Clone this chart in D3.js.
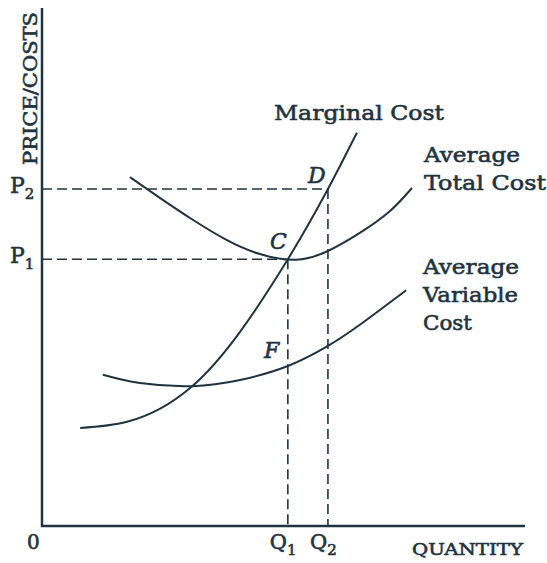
<!DOCTYPE html>
<html>
<head>
<meta charset="utf-8">
<script src="https://cdn.jsdelivr.net/npm/d3@7"></script>
<style>
  body { margin: 0; background: #fff; }
  svg text { font-family: "DejaVu Serif", "Liberation Serif", serif; fill: #1f3440; stroke: #1f3440; stroke-width: 0.6px; }
</style>
</head>
<body>
<div id="chart"></div>
<script>
// curves (quantity / cost, 0-100 units)
var mcQ = [7.9, 17.6, 31.1, 50.9, 59.2, 65.2]
var mcCost = [19.0, 20.2, 27.1, 51.7, 65.3, 76.2]
var atcQ = [18.2, 24.4, 31.3, 38.3, 45.1, 52.6, 59.2, 65.8, 72.0, 76.6]
var atcCost = [67.6, 63.6, 59.3, 55.4, 52.7, 51.6, 53.3, 56.8, 61.0, 65.5]
var avcQ = [12.6, 20.3, 31.1, 41.0, 50.9, 59.2, 65.8, 75.4]
var avcCost = [29.3, 27.7, 27.1, 28.3, 31.0, 34.9, 39.0, 45.7]

// Q1/Q2 and P1/P2 levels (points C and D)
var qLevels = [50.9, 59.2]
var pLevels = [51.7, 65.3]
var levelNames = ['1', '2']

var ink = '#1f3440'
width = 547
height = 563

var svg = d3.select('#chart').append('svg')
    .attr('width', width)
    .attr('height', height)

var xScale = d3.scaleLinear().domain([0, 100]).range([42, 525])
var yScale = d3.scaleLinear().domain([0, 100]).range([526, 10])

function zip(qs, cs) {
    return qs.map(function (q, i) { return [q, cs[i]] })
}

function costLine(curve) {
    return d3.line()
        .x(function (d) { return xScale(d[0]) })
        .y(function (d) { return yScale(d[1]) })
        .curve(curve)
}

// dashed guides
qLevels.forEach(function (q, i) {
    svg.append('line')
        .attr('x1', xScale(0)).attr('x2', xScale(q))
        .attr('y1', yScale(pLevels[i])).attr('y2', yScale(pLevels[i]))
        .attr('stroke', ink).attr('stroke-width', 1.6)
        .attr('stroke-dasharray', '10,5')
    svg.append('line')
        .attr('x1', xScale(q)).attr('x2', xScale(q))
        .attr('y1', yScale(pLevels[i])).attr('y2', yScale(0))
        .attr('stroke', ink).attr('stroke-width', 1.6)
        .attr('stroke-dasharray', '10,5')
})

// the three cost curves
var curves = [
    [zip(mcQ, mcCost), d3.curveMonotoneX],
    [zip(atcQ, atcCost), d3.curveNatural],
    [zip(avcQ, avcCost), d3.curveNatural]
]
curves.forEach(function (c) {
    svg.append('path')
        .attr('d', costLine(c[1])(c[0]))
        .attr('fill', 'none')
        .attr('stroke', ink)
        .attr('stroke-width', 2)
})

// axes
svg.append('line')
    .attr('x1', xScale(0)).attr('x2', xScale(0))
    .attr('y1', yScale(0) + 1).attr('y2', yScale(100) - 2)
    .attr('stroke', ink).attr('stroke-width', 2.5)
svg.append('line')
    .attr('x1', xScale(0) - 1).attr('x2', xScale(100))
    .attr('y1', yScale(0)).attr('y2', yScale(0))
    .attr('stroke', ink).attr('stroke-width', 2.5)

// axis labels
svg.append('text')
    .attr('transform', 'translate(37,165) rotate(-90)')
    .attr('font-size', 19)
    .attr('textLength', 153).attr('lengthAdjust', 'spacingAndGlyphs')
    .text('PRICE/COSTS')

svg.append('text')
    .attr('x', 412).attr('y', 555)
    .attr('font-size', 17)
    .attr('textLength', 111).attr('lengthAdjust', 'spacingAndGlyphs')
    .text('QUANTITY')

svg.append('text')
    .attr('x', 27).attr('y', 549)
    .attr('font-size', 20)
    .text('0')

// P and Q labels
pLevels.forEach(function (p, i) {
    var t = svg.append('text')
        .attr('x', 10).attr('y', yScale(p) + 4)
        .attr('font-size', 22)
    t.append('tspan').text('P')
    t.append('tspan').attr('dy', 6).attr('font-size', 15).text(levelNames[i])
})
qLevels.forEach(function (q, i) {
    var t = svg.append('text')
        .attr('x', xScale(q) - 18).attr('y', 549)
        .attr('font-size', 21)
    t.append('tspan').text('Q')
    t.append('tspan').attr('dy', 6).attr('font-size', 15).text(levelNames[i])
})

// curve names
function label(lines, x, y, step, widths) {
    lines.forEach(function (s, i) {
        svg.append('text')
            .attr('x', x).attr('y', y + i * step)
            .attr('font-size', 21)
            .attr('textLength', widths[i]).attr('lengthAdjust', 'spacingAndGlyphs')
            .text(s)
    })
}
label(['Marginal Cost'], 274, 120, 0, [170])
label(['Average', 'Total Cost'], 424, 162, 28, [96, 122])
label(['Average', 'Variable', 'Cost'], 423, 274, 28, [96, 95, 49])

// point letters
var points = [['C', 270, 249], ['D', 308, 183], ['F', 264, 358]]
points.forEach(function (d) {
    svg.append('text')
        .attr('x', d[1]).attr('y', d[2])
        .attr('font-size', 22)
        .attr('font-style', 'italic')
        .text(d[0])
})
</script>
</body>
</html>
